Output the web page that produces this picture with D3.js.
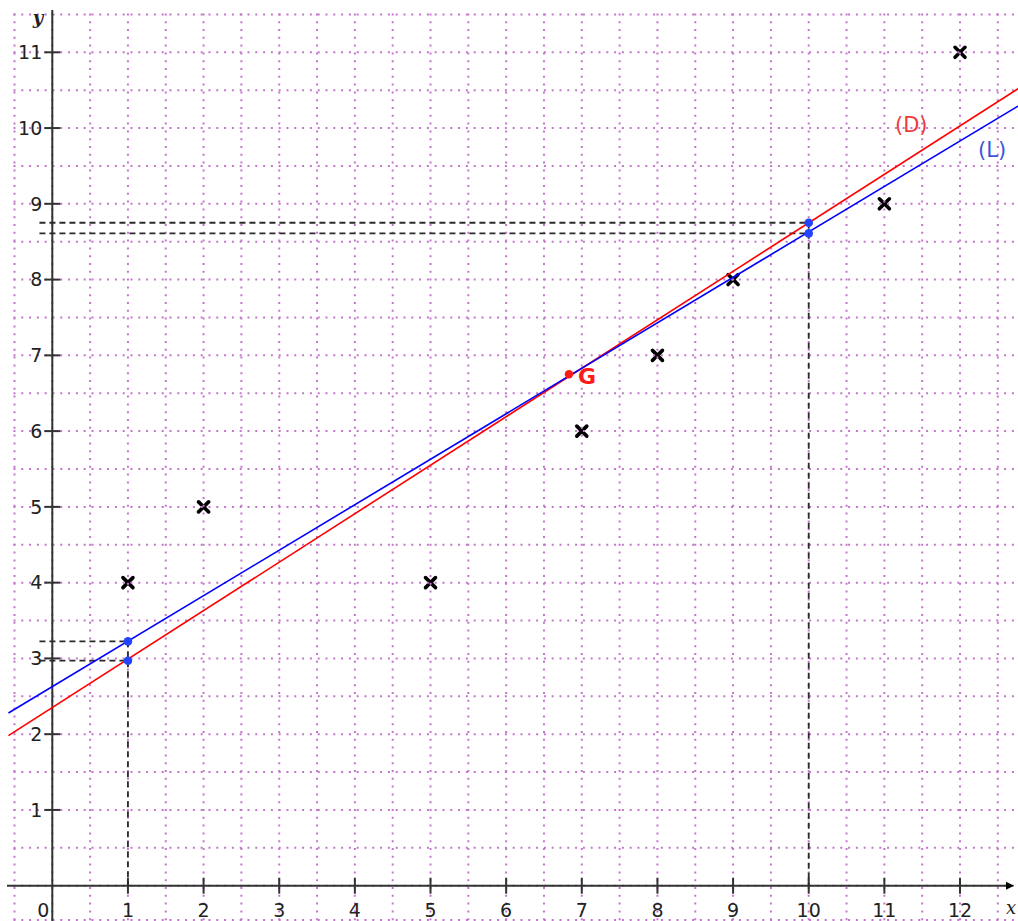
<!DOCTYPE html>
<html>
<head>
<meta charset="utf-8">
<script src="https://cdn.jsdelivr.net/npm/d3@7"></script>
<style>
  html, body { margin: 0; padding: 0; background: #fff; }
  svg { display: block; }
</style>
</head>
<body>
<script>
// ---- data ----
const pointsX = [1, 2, 5, 7, 8, 9, 11, 12];
const pointsY = [4, 5, 4, 6, 7, 8, 9, 11];
const xTicks = [0, 1, 2, 3, 4, 5, 6, 7, 8, 9, 10, 11, 12];
const yTicks = [1, 2, 3, 4, 5, 6, 7, 8, 9, 10, 11];
// line (D) red and line (L) blue: two end points each
const lineDX = [-0.58, 12.8];
const lineDY = [1.98, 10.54];
const lineLX = [-0.58, 12.8];
const lineLY = [2.28, 10.31];
// reading points on the lines
const markX = [1, 1, 10, 10];
const markY = [3.225, 2.97, 8.75, 8.61];
// centre of gravity G
const gX = [6.83];
const gY = [6.75];

const W = 1018, H = 921;
const svg = d3.select("body").append("svg").attr("width", W).attr("height", H);

const x = d3.scaleLinear().domain([0, 12]).range([52.3, 960]);
const y = d3.scaleLinear().domain([0, 11]).range([885.7, 52.3]);

// ---- dotted grid ----
const gridCol = "#c476cc";
const vLines = d3.range(-0.5, 12.6, 0.5);
const hLines = d3.range(-0.5, 11.6, 0.5);
const gridTop = y(11.5), gridLeft = x(-0.5);

// crosses first so the grid dots can sit on top
const cross = svg.append("g").attr("stroke", "#000").attr("stroke-width", 3.6).attr("stroke-linecap", "round");
pointsX.forEach((px, i) => {
  const cx = x(px), cy = y(pointsY[i]), s = 5;
  cross.append("line").attr("x1", cx - s).attr("y1", cy - s).attr("x2", cx + s).attr("y2", cy + s);
  cross.append("line").attr("x1", cx - s).attr("y1", cy + s).attr("x2", cx + s).attr("y2", cy - s);
});

const gridG = svg.append("g").attr("stroke", gridCol).attr("stroke-width", 2).attr("stroke-dasharray", "2,5.8");
vLines.forEach(v => {
  gridG.append("line").attr("x1", x(v)).attr("x2", x(v)).attr("y1", gridTop - 1).attr("y2", H);
});
hLines.forEach(v => {
  gridG.append("line").attr("x1", gridLeft - 1).attr("x2", W).attr("y1", y(v)).attr("y2", y(v));
});
gridG.append("line").attr("x1", gridLeft - 1).attr("x2", W).attr("y1", 920).attr("y2", 920);

// ---- axes ----
const axCol = "#333";
const ax = svg.append("g").attr("stroke", axCol).attr("stroke-width", 2);
ax.append("line").attr("x1", 7).attr("x2", 1010).attr("y1", y(0)).attr("y2", y(0));
ax.append("line").attr("x1", x(0)).attr("x2", x(0)).attr("y1", 10).attr("y2", H);
svg.append("path")
  .attr("d", `M1006,${y(0) - 4} L1014,${y(0)} L1006,${y(0) + 4} Z`)
  .attr("fill", "#000");

xTicks.filter(d => d !== 0).forEach(d => {
  ax.append("line").attr("x1", x(d)).attr("x2", x(d)).attr("y1", y(0) - 8).attr("y2", y(0) + 8);
});
yTicks.forEach(d => {
  ax.append("line").attr("x1", x(0) - 8).attr("x2", x(0) + 8).attr("y1", y(d)).attr("y2", y(d));
});

const lblFont = "'DejaVu Sans', Verdana, sans-serif";
const lbl = svg.append("g").attr("font-family", lblFont).attr("font-size", 19).attr("fill", "#222");
xTicks.forEach(d => {
  lbl.append("text")
    .attr("x", d === 0 ? x(0) - 9 : x(d))
    .attr("y", 917)
    .attr("text-anchor", "middle")
    .text(d);
});
yTicks.forEach(d => {
  lbl.append("text")
    .attr("x", x(0) - 10)
    .attr("y", y(d))
    .attr("dy", "0.36em")
    .attr("text-anchor", "end")
    .text(d);
});
svg.append("text").attr("x", 38).attr("y", 24).attr("font-family", "'DejaVu Serif', 'Liberation Serif', serif")
  .attr("font-style", "italic").attr("font-weight", "bold").attr("font-size", 18).attr("fill", "#222")
  .attr("text-anchor", "middle").text("y");
svg.append("text").attr("x", 1011).attr("y", 914).attr("font-family", "'DejaVu Serif', 'Liberation Serif', serif")
  .attr("font-style", "italic").attr("font-size", 18).attr("fill", "#222")
  .attr("text-anchor", "middle").text("x");

// ---- dashed reading lines ----
const dash = svg.append("g").attr("stroke", "#2a2a2a").attr("stroke-width", 1.8).attr("stroke-dasharray", "6,4");
markY.forEach((v, i) => {
  dash.append("line").attr("x1", x(-0.17)).attr("x2", x(markX[i])).attr("y1", y(v)).attr("y2", y(v));
});
[1, 10].forEach(v => {
  const top = d3.max(markY.filter((m, j) => markX[j] === v));
  dash.append("line").attr("x1", x(v)).attr("x2", x(v)).attr("y1", y(top)).attr("y2", y(0));
});

// ---- lines ----
const lineGen = d3.line().x(d => x(d[0])).y(d => y(d[1]));
svg.append("path").datum(lineDX.map((v, i) => [v, lineDY[i]]))
  .attr("d", lineGen).attr("stroke", "#ff0000").attr("stroke-width", 1.6).attr("fill", "none");
svg.append("path").datum(lineLX.map((v, i) => [v, lineLY[i]]))
  .attr("d", lineGen).attr("stroke", "#0000ff").attr("stroke-width", 1.6).attr("fill", "none");

// ---- marks ----
markX.forEach((v, i) => {
  svg.append("circle").attr("cx", x(v)).attr("cy", y(markY[i])).attr("r", 4.3).attr("fill", "#2244ff");
});
svg.append("circle").attr("cx", x(gX[0])).attr("cy", y(gY[0])).attr("r", 4.2).attr("fill", "#ff1a1a");
svg.append("text").attr("x", x(gX[0]) + 9).attr("y", y(gY[0]) + 10)
  .attr("font-family", lblFont).attr("font-weight", "bold").attr("font-size", 22)
  .attr("fill", "#ff1a1a").text("G");

svg.append("text").attr("x", 895).attr("y", 132).attr("font-family", lblFont).attr("font-size", 21)
  .attr("fill", "#f03a3a").text("(D)");
svg.append("text").attr("x", 978).attr("y", 157).attr("font-family", lblFont).attr("font-size", 21)
  .attr("fill", "#3858d8").text("(L)");
</script>
</body>
</html>
